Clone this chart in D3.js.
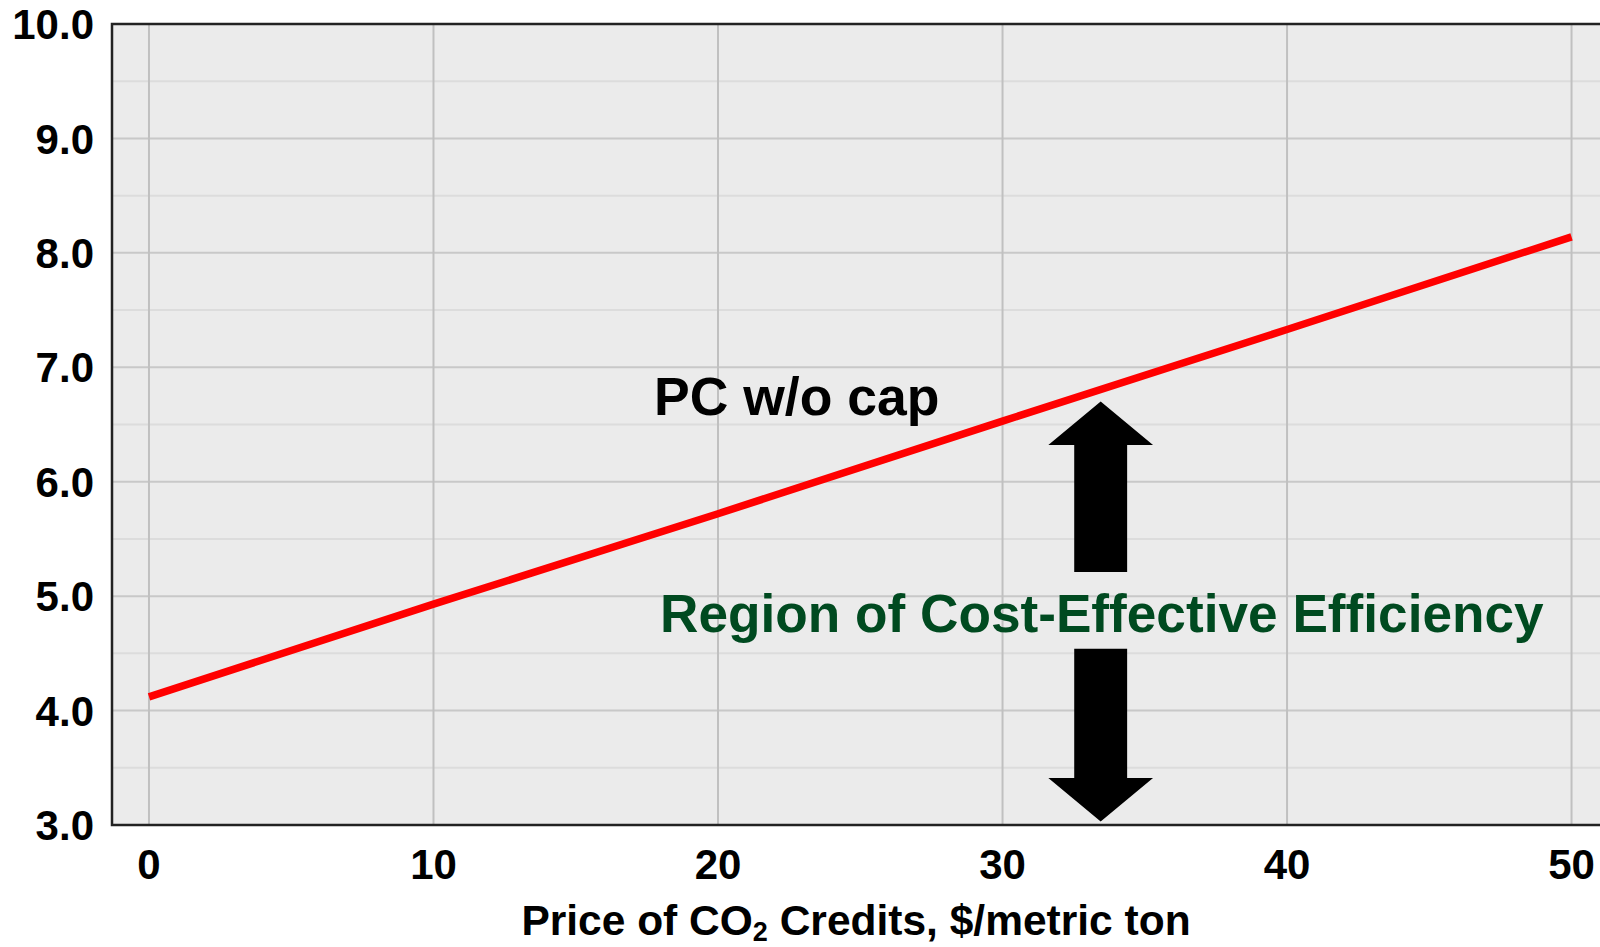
<!DOCTYPE html>
<html>
<head>
<meta charset="utf-8">
<script src="https://cdn.jsdelivr.net/npm/d3@7"></script>
<style>
  body { margin: 0; background: #fff; }
  text { font-family: "Liberation Sans", Arial, sans-serif; font-weight: bold; }
</style>
</head>
<body>
<script>
// CO2 credit price vs cost
const prices = [0, 10, 20, 30, 40, 50];
const pcNoCap = [4.12, 4.93, 5.72, 6.53, 7.33, 8.14];
const xTicks = [0, 10, 20, 30, 40, 50];
const yTicks = [3, 4, 5, 6, 7, 8, 9, 10];
const yMinor = [3.5, 4.5, 5.5, 6.5, 7.5, 8.5, 9.5];

// double arrow annotation, data units
const arrowX = 33.45;
const upArrow = { tip: 6.70, headBase: 6.32, shaftEnd: 5.21 };
const downArrow = { tip: 3.03, headBase: 3.41, shaftEnd: 4.54 };
const headHalf = 1.84, shaftHalf = 0.93;

const W = 1600, H = 947;
const margin = { top: 24, right: 0, bottom: 122, left: 112 };

const svg = d3.select("body").append("svg").attr("width", W).attr("height", H);

const x = d3.scaleLinear().domain([-1.3, 51]).range([margin.left, W - margin.right]);
const y = d3.scaleLinear().domain([3, 10]).range([H - margin.bottom, margin.top]);

svg.append("rect")
  .attr("x", margin.left).attr("y", margin.top)
  .attr("width", W - margin.right - margin.left)
  .attr("height", H - margin.bottom - margin.top)
  .attr("fill", "#ebebeb");

// grid
svg.append("g").selectAll("line").data(yMinor).join("line")
  .attr("x1", margin.left).attr("x2", W - margin.right)
  .attr("y1", d => y(d)).attr("y2", d => y(d))
  .attr("stroke", "#dcdcdc").attr("stroke-width", 2);
svg.append("g").selectAll("line").data(yTicks).join("line")
  .attr("x1", margin.left).attr("x2", W - margin.right)
  .attr("y1", d => y(d)).attr("y2", d => y(d))
  .attr("stroke", "#c8c8c8").attr("stroke-width", 2);
svg.append("g").selectAll("line").data(xTicks).join("line")
  .attr("x1", d => x(d)).attr("x2", d => x(d))
  .attr("y1", margin.top).attr("y2", H - margin.bottom)
  .attr("stroke", "#c0c0c0").attr("stroke-width", 2);

// frame: top, left, bottom
svg.append("path")
  .attr("d", `M${W},${margin.top}H${margin.left}V${H - margin.bottom}H${W}`)
  .attr("fill", "none").attr("stroke", "#222").attr("stroke-width", 2.5);

// tick labels
svg.append("g").selectAll("text").data(yTicks).join("text")
  .attr("x", 94).attr("y", d => y(d)).attr("dy", "0.36em")
  .attr("text-anchor", "end").attr("font-size", 42)
  .text(d => d.toFixed(1));
svg.append("g").selectAll("text").data(xTicks).join("text")
  .attr("x", d => x(d)).attr("y", 879)
  .attr("text-anchor", "middle").attr("font-size", 42)
  .text(d => d);

// axis title
const title = svg.append("text")
  .attr("x", (margin.left + W) / 2).attr("y", 935)
  .attr("text-anchor", "middle").attr("font-size", 42.5);
title.append("tspan").text("Price of CO");
title.append("tspan").attr("font-size", 27).attr("dy", 6).text("2");
title.append("tspan").attr("dy", -6).text(" Credits, $/metric ton");

// line
svg.append("path")
  .datum(prices.map((p, i) => [p, pcNoCap[i]]))
  .attr("fill", "none").attr("stroke", "#ff0000").attr("stroke-width", 7.5)
  .attr("d", d3.line().x(d => x(d[0])).y(d => y(d[1])));

// arrows
function arrowPath(a) {
  const pts = [
    [arrowX, a.tip],
    [arrowX + headHalf, a.headBase],
    [arrowX + shaftHalf, a.headBase],
    [arrowX + shaftHalf, a.shaftEnd],
    [arrowX - shaftHalf, a.shaftEnd],
    [arrowX - shaftHalf, a.headBase],
    [arrowX - headHalf, a.headBase]
  ];
  return "M" + pts.map(p => `${x(p[0])},${y(p[1])}`).join("L") + "Z";
}
svg.append("g").selectAll("path").data([upArrow, downArrow]).join("path")
  .attr("d", arrowPath).attr("fill", "#000");

// labels
svg.append("text")
  .attr("x", 654).attr("y", 415).attr("font-size", 53.5).attr("fill", "#000")
  .text("PC w/o cap");
svg.append("text")
  .attr("x", 660).attr("y", 632).attr("font-size", 53.2).attr("fill", "#004a20")
  .text("Region of Cost-Effective Efficiency");
</script>
</body>
</html>
